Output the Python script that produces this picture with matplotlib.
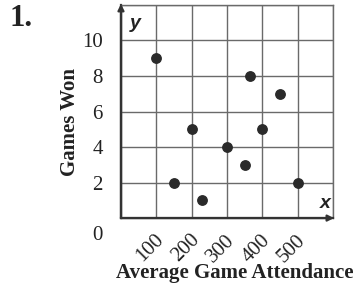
import matplotlib.pyplot as plt
from matplotlib.transforms import ScaledTranslation

# data
attendance = [100, 150, 200, 230, 300, 350, 365, 400, 450, 500]
games_won = [9, 2, 5, 1, 4, 3, 8, 5, 7, 2]
x_ticks = [100, 200, 300, 400, 500]
y_ticks = [0, 2, 4, 6, 8, 10]

serif = 'Liberation Serif'
sans = 'Liberation Sans'

fig = plt.figure(figsize=(3.59, 2.90), dpi=100)
ax = fig.add_axes([0.337, 0.248, 0.5906, 0.735])

ax.set_xlim(0, 600)
ax.set_ylim(0, 12)

# grid every 100 / every 2, labels only where the picture has them
xgrid = list(range(0, 601, 100))
ygrid = list(range(0, 13, 2))
ax.set_xticks(xgrid)
ax.set_xticklabels([str(v) if v in x_ticks else '' for v in xgrid],
                   rotation=45, fontsize=15, family=serif, color='#222222')
ax.set_yticks(ygrid)
ax.set_yticklabels([str(v) if v in y_ticks else '' for v in ygrid],
                   fontsize=15, family=serif, color='#222222')
ax.grid(color='#6a6a6a', lw=1.0)
ax.set_axisbelow(True)
ax.tick_params(length=0)
ax.tick_params(axis='x', pad=9)
ax.tick_params(axis='y', pad=13)
for lbl in ax.get_xticklabels():
    lbl.set_transform(lbl.get_transform() + ScaledTranslation(-0.06, 0, fig.dpi_scale_trans))
zero = ax.get_yticklabels()[0]
zero.set_transform(zero.get_transform() + ScaledTranslation(0, -0.15, fig.dpi_scale_trans))

for s in ['top', 'right']:
    ax.spines[s].set_color('#6a6a6a')
    ax.spines[s].set_linewidth(1.0)
for s in ['left', 'bottom']:
    ax.spines[s].set_color('#333333')
    ax.spines[s].set_linewidth(1.6)

ax.scatter(attendance, games_won, s=46, color='#2a2a2a', zorder=5, clip_on=False)

# axis arrows
ax.annotate('', xy=(0, 1.005), xytext=(0, 0), xycoords='axes fraction',
            arrowprops=dict(arrowstyle='-|>', color='#333333', lw=1.6, mutation_scale=9, shrinkA=0, shrinkB=0))
ax.annotate('', xy=(1.005, 0), xytext=(0, 0), xycoords='axes fraction',
            arrowprops=dict(arrowstyle='-|>', color='#333333', lw=1.6, mutation_scale=9, shrinkA=0, shrinkB=0))

ax.text(0.04, 0.955, 'y', transform=ax.transAxes, fontsize=14, family=sans,
        fontweight='bold', style='italic', ha='left', va='top', color='#222222')
ax.text(0.99, 0.03, 'x', transform=ax.transAxes, fontsize=14, family=sans,
        fontweight='bold', style='italic', ha='right', va='bottom', color='#222222')

ax.set_ylabel('Games Won', fontsize=15, family=serif, fontweight='bold', color='#222222')
ax.yaxis.set_label_coords(-0.195, 0.45)
fig.text(0.655, 0.058, 'Average Game Attendance', fontsize=15, family=serif,
         fontweight='bold', ha='center', va='center', color='#222222')

fig.text(0.026, 0.935, '1.', fontsize=22, family=serif, fontweight='bold', ha='left', va='center', color='#222222')

plt.savefig('out.png', dpi=100)
